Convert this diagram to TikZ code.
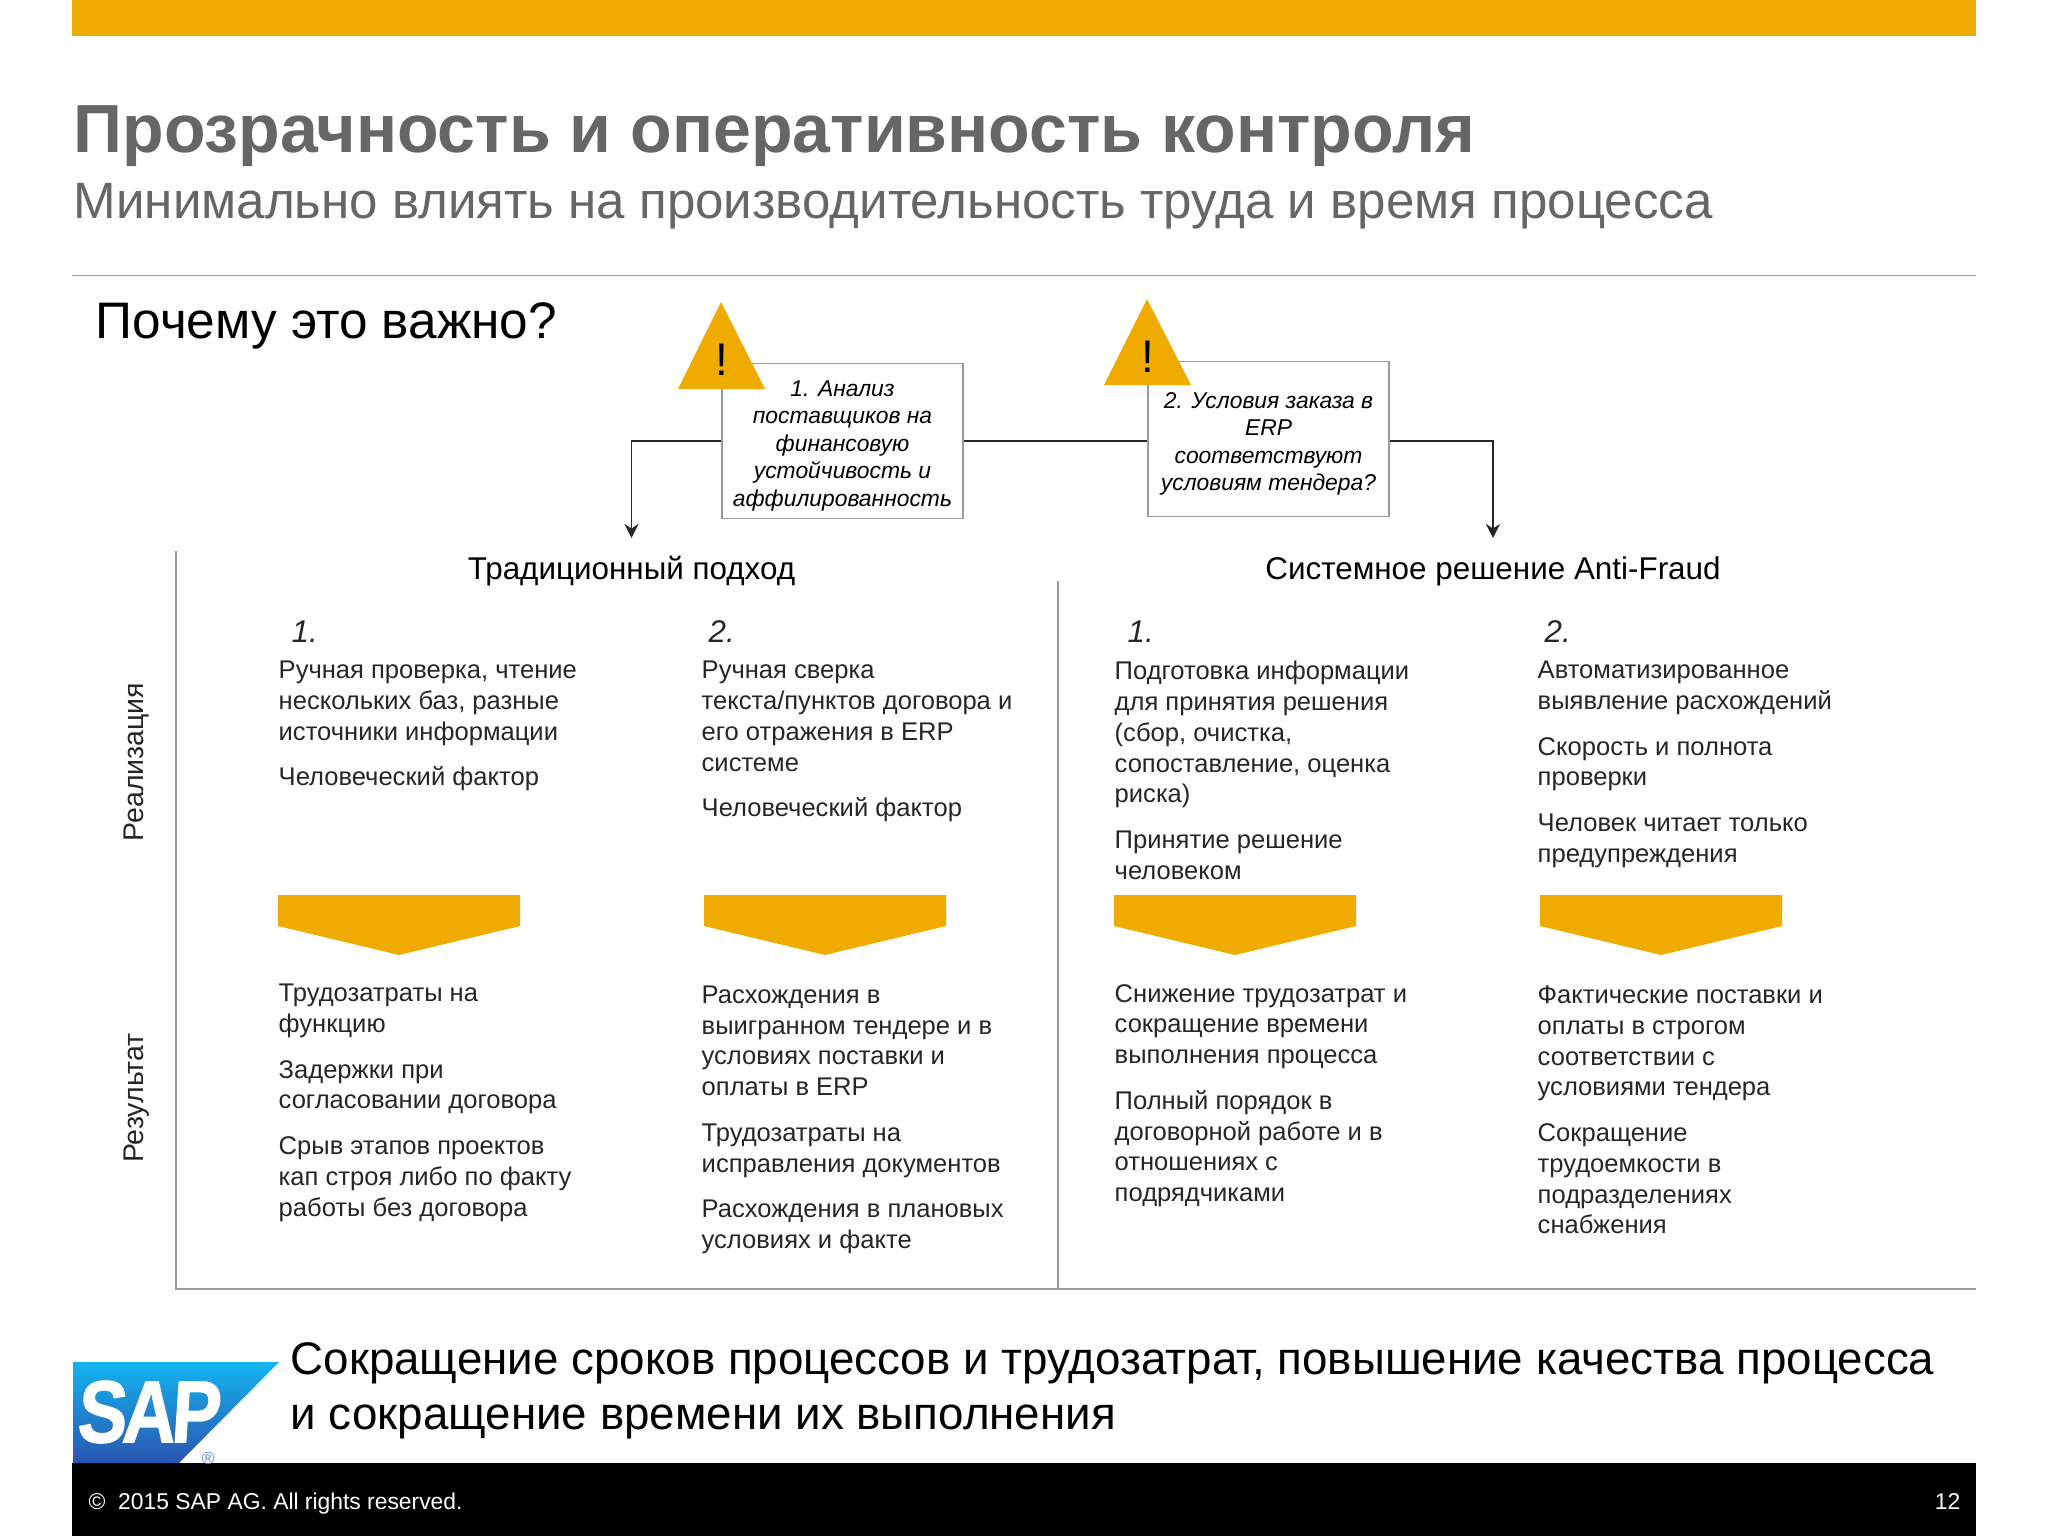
\documentclass[tikz,border=0pt]{standalone}
\usepackage{fontspec}
\usetikzlibrary{arrows.meta}
\setmainfont{Liberation Sans}
\newfontfamily\sapfont{Liberation Sans Bold}[FakeBold=1.6]

\definecolor{sapgold}{HTML}{F0AB00}
\definecolor{sapgrey}{HTML}{666666}
\definecolor{rulegrey}{HTML}{9A9A9A}
\definecolor{saptop}{HTML}{14B4F0}
\definecolor{sapbot}{HTML}{2A55B0}
\definecolor{sapreg}{HTML}{5F8FD0}

\newcommand{\gap}{\\[4.2pt]}
\newcommand{\boxtop}{\rule{0pt}{7.2pt}}

\tikzset{
  bodytext/.style={anchor=north west, inner sep=0pt, align=left, text=black!85,
    font=\fontsize{7.27}{8.76}\selectfont, execute at begin node=\strut},
  chevron/.style={fill=sapgold},
  warnbox/.style={draw=rulegrey, fill=white, line width=.5pt, minimum width=2.41cm, minimum height=1.55cm,
    inner sep=0pt, align=center, font=\fontsize{6.5}{7.8}\selectfont\itshape},
  warnmark/.style={inner sep=0pt, font=\fontsize{13}{13}\selectfont},
  flow/.style={line width=.55pt, black!85},
  frameline/.style={draw=rulegrey, line width=.5pt}
}

\begin{document}
\begin{tikzpicture}[x=.01cm,y=-.01cm]

      \useasboundingbox (0,0) rectangle (2048,1536);

      \fill[sapgold] (72,0) rectangle (1976,36);
      \fill (72,1463) rectangle (1976,1536);

      \draw[frameline] (72,275.5) -- (1976,275.5);
      \draw[frameline] (176,551) -- (176,1289) -- (1976,1289);
      \draw[frameline] (1058,581) -- (1058,1289);

      \begin{scope}[every node/.style={anchor=base west, inner sep=0pt}]
        \node[text=sapgrey, font=\fontsize{19.36}{24}\selectfont\bfseries] (title) at (73,152) {Прозрачность и оперативность контроля};
        \node[text=sapgrey, font=\fontsize{14.53}{18}\selectfont] (subtitle) at (73,218) {Минимально влиять на производительность труда и время процесса};
        \node[font=\fontsize{14.6}{18}\selectfont] (why) at (95,338) {Почему это важно?};
        \node[font=\fontsize{13}{16}\selectfont] (sum1) at (290,1374) {Сокращение сроков процессов и трудозатрат, повышение качества процесса};
        \node[font=\fontsize{13}{16}\selectfont] (sum2) at (290,1429) {и сокращение времени их выполнения};
        \node[text=white, font=\fontsize{6.5}{8}\selectfont] (copy) at (88,1509) {©\ \ 2015 SAP AG. All rights reserved.};
        \node[text=white, font=\fontsize{6.5}{8}\selectfont, anchor=base east] (page) at (1961,1509) {12};
      \end{scope}

      \node[warnbox] (box1) at (842.5,441) {\boxtop 1. Анализ\\поставщиков на\\финансовую\\устойчивость и\\аффилированность};
      \node[warnbox] (box2) at (1268.5,439) {\boxtop 2. Условия заказа в\\ERP\\соответствуют\\условиям тендера?};

      \fill[sapgold] (678,389) -- (721,302) -- (765,389) -- cycle;
      \fill[sapgold] (1104,385) -- (1147,299) -- (1191,385) -- cycle;
      \node[warnmark] (mark1) at (722,360) {!};
      \node[warnmark] (mark2) at (1148,357) {!};

      \coordinate (end1) at (631.5,538);
      \coordinate (end2) at (1493,538);
      \draw[flow] (box1.east) -- (box2.west |- box1.east);
      \draw[flow,-{Stealth[length=4pt,width=4pt]}] (box1.west) -| (end1);
      \draw[flow,-{Stealth[length=4pt,width=4pt]}] (box2.east |- box1.east) -| (end2);

      \begin{scope}[every node/.style={inner sep=0pt, font=\fontsize{8.93}{11}\selectfont}]
        \node (head1) at (631.5,571.5) {Традиционный подход};
        \node (head2) at (1493,571.5) {Системное решение Anti-Fraud};
        \node[rotate=90, text=black!85, font=\fontsize{8.1}{10}\selectfont] (impl) at (137,762) {Реализация};
        \node[rotate=90, text=black!85, font=\fontsize{8.1}{10}\selectfont] (res) at (137,1098) {Результат};
      \end{scope}

      \begin{scope}[every node/.style={anchor=base west, inner sep=0pt, text=black!85, font=\fontsize{8.93}{11}\selectfont\itshape}]
        \node (num1) at (291,642) {1.};
        \node (num2) at (708,642) {2.};
        \node (num3) at (1127,642) {1.};
        \node (num4) at (1544,642) {2.};
      \end{scope}

      \foreach \xa/\name in {278/a,704/b,1114/c,1540/d}{
        \fill[chevron] (\xa,895) -- ++(242,0) -- ++(0,31) -- ++(-121,29) -- ++(-121,-29) -- cycle;
      }

      \begin{scope}[every node/.style={bodytext}]
        \node (top1) at (278,660.5) {Ручная проверка, чтение\\нескольких баз, разные\\источники информации\gap Человеческий фактор};
        \node (top2) at (701,660.5) {Ручная сверка\\текста/пунктов договора и\\его отражения в ERP\\системе\gap Человеческий фактор};
        \node (top3) at (1114,660.5) {Подготовка информации\\для принятия решения\\(сбор, очистка,\\сопоставление, оценка\\риска)\gap Принятие решение\\человеком};
        \node (top4) at (1537,660.5) {Автоматизированное\\выявление расхождений\gap Скорость и полнота\\проверки\gap Человек читает только\\предупреждения};
        \node (low1) at (278,983.5) {Трудозатраты на\\функцию\gap Задержки при\\согласовании договора\gap Срыв этапов проектов\\кап строя либо по факту\\работы без договора};
        \node (low2) at (701,985) {Расхождения в\\выигранном тендере и в\\условиях поставки и\\оплаты в ERP\gap Трудозатраты на\\исправления документов\gap Расхождения в плановых\\условиях и факте};
        \node (low3) at (1114,983.5) {Снижение трудозатрат и\\сокращение времени\\выполнения процесса\gap Полный порядок в\\договорной работе и в\\отношениях с\\подрядчиками};
        \node (low4) at (1537,985) {Фактические поставки и\\оплаты в строгом\\соответствии с\\условиями тендера\gap Сокращение\\трудоемкости в\\подразделениях\\снабжения};
      \end{scope}

      \shade[top color=saptop, bottom color=sapbot] (73,1362) -- (279,1362) -- (179,1463) -- (73,1463) -- cycle;
      \node[text=white, inner sep=0pt, xscale=.84, xslant=.08, font=\fontsize{25}{25}\selectfont\sapfont] (saplogo) at (150,1412) {S\kern-1.5pt A\kern-1.5pt P};
      \node[text=sapreg, inner sep=0pt, font=\fontsize{5}{5}\selectfont] (reg) at (208,1458) {®};

    \end{tikzpicture}
\end{document}
